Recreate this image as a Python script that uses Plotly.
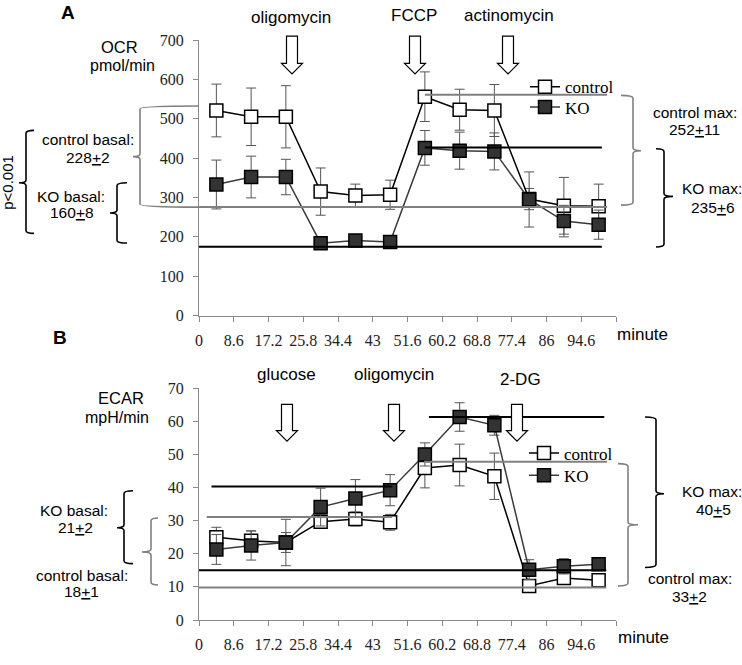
import plotly.graph_objects as go

# ---- data ----
minutes = [4.3, 12.9, 21.5, 30.1, 38.7, 47.3, 55.9, 64.5, 73.1, 81.7, 90.3, 98.9]
tick_vals = [0, 8.6, 17.2, 25.8, 34.4, 43, 51.6, 60.2, 68.8, 77.4, 86, 94.6, 103.2]
tick_text = ["0", "8.6", "17.2", "25.8", "34.4", "43", "51.6", "60.2", "68.8", "77.4", "86", "94.6", ""]

ocr_control = [521, 505, 505, 315, 305, 307, 556, 523, 521, 296, 279, 278]
ocr_control_err = [67, 73, 79, 60, 29, 37, 63, 52, 66, 27, 72, 56]
ocr_ko = [333, 352, 352, 184, 191, 187, 426, 419, 417, 295, 240, 231]
ocr_ko_err = [62, 53, 45, 8, 6, 6, 44, 47, 47, 70, 40, 37]

ecar_control = [25.0, 23.9, 23.4, 29.7, 30.5, 29.5, 45.9, 46.8, 43.4, 10.3, 12.7, 12.0]
ecar_control_err = [3, 3, 3, 2, 2.1, 2.4, 6, 6.3, 7, 1.5, 1.5, 1]
ecar_ko = [21.3, 22.5, 23.4, 34.1, 36.7, 39.2, 50.0, 61.3, 58.8, 15.2, 16.2, 16.8]
ecar_ko_err = [4.5, 4.4, 7, 5.7, 5.7, 4.7, 3.5, 4.3, 3, 3, 2.3, 1]

# reference levels (value, color)
ocr_levels = [(276, "gray"), (175, "black"), (561, "gray"), (427, "black")]
ecar_levels = [(47.8, "gray"), (61.3, "black"), (40.3, "black"), (31.1, "gray"), (15, "black"), (9.8, "gray")]

# ---- page geometry (pixels) ----
W, H = 742, 665
ML, MR, MT, MB = 199, 126, 40, 28
PW = W - ML - MR
PH = H - MT - MB

SANS = "Liberation Sans, Arial, sans-serif"
SERIF = "Liberation Serif, Times New Roman, serif"
GRAY = "#808080"
AXIS = "#8a8a8a"


def px_x(p):
    return (p - ML) / PW


def px_y(p):
    return (H - MB - p) / PH


fig = go.Figure()

marker_c = dict(symbol="square", size=13, color="white", line=dict(color="black", width=1.5))
marker_k = dict(symbol="square", size=13, color="#333333", line=dict(color="black", width=1.5))
err_style = dict(type="data", color="#555555", thickness=1, width=5)

for xa, ya, c, ce, k, ke, legs in [
    ("x", "y", ocr_control, ocr_control_err, ocr_ko, ocr_ko_err, ("legend", "legend2")),
    ("x2", "y2", ecar_control, ecar_control_err, ecar_ko, ecar_ko_err, ("legend3", "legend4")),
]:
    fig.add_trace(go.Scatter(
        x=minutes, y=c, mode="lines+markers", name="control",
        line=dict(color="black", width=1.5), marker=marker_c,
        error_y=dict(array=ce, **err_style), xaxis=xa, yaxis=ya, legend=legs[0],
    ))
    fig.add_trace(go.Scatter(
        x=minutes, y=k, mode="lines+markers", name="KO",
        line=dict(color="#3a3a3a", width=1.5), marker=marker_k,
        error_y=dict(array=ke, **err_style), xaxis=xa, yaxis=ya, legend=legs[1],
    ))

# level lines
ocr_spans = [(0, 101.0), (0, 99.7), (55.9, 101.0), (55.9, 99.7)]
for (val, col), (x0, x1) in zip(ocr_levels, ocr_spans):
    fig.add_shape(type="line", xref="x", yref="y", x0=x0, x1=x1, y0=val, y1=val,
                  line=dict(color=GRAY if col == "gray" else "black", width=2))
ecar_spans = [(55.7, 101.0), (56.9, 100.3), (3.1, 47.8), (1.9, 47.8), (0, 100.8), (0, 100.8)]
for (val, col), (x0, x1) in zip(ecar_levels, ecar_spans):
    fig.add_shape(type="line", xref="x2", yref="y2", x0=x0, x1=x1, y0=val, y1=val,
                  line=dict(color=GRAY if col == "gray" else "black", width=2))


def brace(x, y0, y1, tip, nib, ym, color):
    # curly-ish bracket: vertical at x, end ticks to `tip`, middle nib to `nib`
    s = 3
    pts = [
        f"M{px_x(tip)},{px_y(y0)}",
        f"Q{px_x(x)},{px_y(y0)} {px_x(x)},{px_y(y0 + s)}",
        f"L{px_x(x)},{px_y(ym - s)}",
        f"Q{px_x(x)},{px_y(ym)} {px_x(nib)},{px_y(ym)}",
        f"Q{px_x(x)},{px_y(ym)} {px_x(x)},{px_y(ym + s)}",
        f"L{px_x(x)},{px_y(y1 - s)}",
        f"Q{px_x(x)},{px_y(y1)} {px_x(tip)},{px_y(y1)}",
    ]
    fig.add_shape(type="path", xref="paper", yref="paper", path=" ".join(pts),
                  line=dict(color=color, width=1.6))


# top panel brackets
brace(26, 133, 239, 34, 19, 187, "black")
brace(140, 108, 212, 199, 133, 160, GRAY)
brace(117, 187, 249, 127, 110, 218, "black")
brace(633, 97, 210, 621, 641, 154, GRAY)
brace(664, 152, 253, 656, 673, 201, "black")
# bottom panel brackets
brace(124, 504, 579, 133, 117, 542, "black")
brace(151, 532, 601, 158, 142, 567, GRAY)
brace(656, 428, 583, 645, 664, 507, "black")
brace(628, 476, 602, 618, 638, 539, GRAY)


def arrow(cx, top, tip):
    head = tip - 11
    pts = [(cx - 5.5, top), (cx - 5.5, head), (cx - 10.5, head), (cx, tip),
           (cx + 10.5, head), (cx + 5.5, head), (cx + 5.5, top)]
    path = "M" + " L".join(f"{px_x(a)},{px_y(b)}" for a, b in pts) + " Z"
    fig.add_shape(type="path", xref="paper", yref="paper", path=path,
                  fillcolor="white", line=dict(color="black", width=1.2))


for cx in (292, 415, 508):
    arrow(cx, 36, 75)
for cx in (287, 394, 517):
    arrow(cx, 415, 453)


def label(text, x, y, size=15.5, family=SANS, angle=0, anchor="center"):
    fig.add_annotation(text=text, x=px_x(x), y=px_y(y), xref="paper", yref="paper",
                       showarrow=False, xanchor=anchor, yanchor="middle", textangle=angle,
                       font=dict(family=family, size=size, color="black"))


PM = "<u>+</u>"
# top panel texts
label("<b>A</b>", 68, 12, 19)
label("OCR", 119, 47, 16.5)
label("pmol/min", 122, 66, 16)
label("oligomycin", 291, 17, 17)
label("FCCP", 414, 15, 17)
label("actinomycin", 509, 15, 17)
label("control basal:", 88, 142)
label("228" + PM + "2", 88, 161)
label("KO basal:", 71, 201)
label("160" + PM + "8", 72, 218)
label("p<0.001", 8, 187, 15, angle=-90)
label("control max:", 695, 115)
label("252" + PM + "11", 694, 132)
label("KO max:", 712, 193)
label("235" + PM + "6", 713, 212)
label("minute", 615, 343, 17, anchor="left")
# bottom panel texts
label("<b>B</b>", 60, 346, 19)
label("ECAR", 121, 409, 16.5)
label("mpH/min", 117, 429, 16)
label("glucose", 286, 384, 17)
label("oligomycin", 394, 384, 17)
label("2-DG", 520, 389, 17)
label("KO basal:", 74, 524)
label("21" + PM + "2", 75, 542)
label("control basal:", 82, 591)
label("18" + PM + "1", 81, 608)
label("KO max:", 712, 505)
label("40" + PM + "5", 713, 523)
label("control max:", 690, 594)
label("33" + PM + "2", 689, 613)
label("minute", 616, 655, 17, anchor="left")

top_dom = [px_y(323.7), 1]
bot_dom = [0, px_y(398.4)]

xax = dict(range=[0, 103.2], tickmode="array", tickvals=tick_vals, ticktext=tick_text,
           showline=True, linecolor=AXIS, linewidth=1, ticks="outside", ticklen=5,
           tickcolor=AXIS, showgrid=False, zeroline=False, ticklabelstandoff=5,
           tickfont=dict(family=SERIF, size=16, color="#222222"))
yax = dict(showline=True, linecolor=AXIS, linewidth=1, ticks="outside", ticklen=5,
           tickcolor=AXIS, showgrid=False, zeroline=False, ticklabelstandoff=6,
           tickfont=dict(family=SERIF, size=16, color="#222222"))

legend_common = dict(bgcolor="rgba(0,0,0,0)", borderwidth=0, xanchor="left", yanchor="top",
                     font=dict(family=SERIF, size=17, color="black"), itemwidth=30)

fig.update_layout(
    width=W, height=H,
    margin=dict(l=ML, r=MR, t=MT, b=MB),
    paper_bgcolor="white", plot_bgcolor="white",
    xaxis=dict(anchor="y", **xax),
    yaxis=dict(domain=top_dom, range=[0, 700], dtick=100, anchor="x", **yax),
    xaxis2=dict(anchor="y2", **xax),
    yaxis2=dict(domain=bot_dom, range=[0, 70], dtick=10, anchor="x2", **yax),
    legend=dict(x=px_x(525), y=px_y(70), **legend_common),
    legend2=dict(x=px_x(525), y=px_y(91), **legend_common),
    legend3=dict(x=px_x(524), y=px_y(447), **legend_common),
    legend4=dict(x=px_x(524), y=px_y(470), **legend_common),
    showlegend=True,
)

# the page body has a default 8px margin; drop it so the figure fills the window
fig.write_html("out.html", config={"displayModeBar": False},
               post_script="document.body.style.margin='0';document.body.style.overflow='hidden';")
